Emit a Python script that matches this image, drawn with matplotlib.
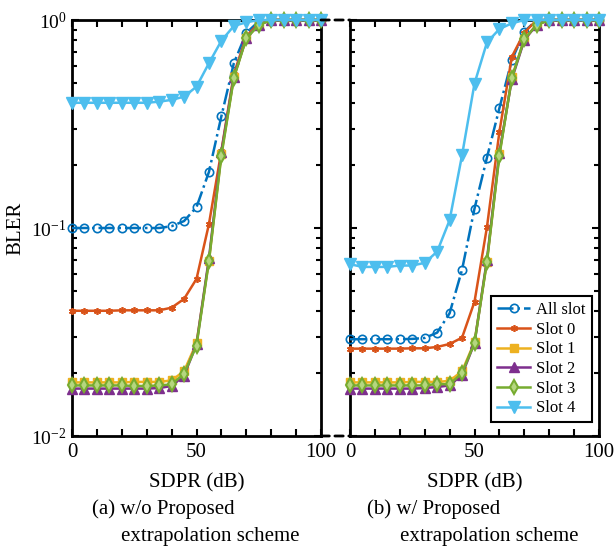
import matplotlib
matplotlib.use("Agg")
import matplotlib.pyplot as plt
from matplotlib.patches import ConnectionPatch

plt.rcParams['font.family'] = ['Liberation Serif', 'DejaVu Serif']
plt.rcParams['mathtext.fontset'] = 'stix'

# ---------------- data ----------------
sdpr = [0, 5, 10, 15, 20, 25, 30, 35, 40, 45, 50, 55, 60, 65, 70, 75, 80, 85, 90, 95, 100]

labels = ["All slot", "Slot 0", "Slot 1", "Slot 2", "Slot 3", "Slot 4"]

# (a) w/o proposed extrapolation scheme
a_all = [0.1, 0.1, 0.1, 0.1, 0.1, 0.1, 0.1, 0.1, 0.102, 0.108, 0.126, 0.186, 0.345, 0.62, 0.866, 0.985, 1, 1, 1, 1, 1]
a_s0 = [0.04, 0.04, 0.04, 0.04, 0.0402, 0.0402, 0.0402, 0.0402, 0.0414, 0.0456, 0.0569, 0.1045, 0.235, 0.55, 0.835, 0.965, 1, 1, 1, 1, 1]
a_s1 = [0.0181, 0.0181, 0.0181, 0.0181, 0.0181, 0.0182, 0.0182, 0.0182, 0.0185, 0.0205, 0.028, 0.0695, 0.226, 0.53, 0.82, 0.95, 1, 1, 1, 1, 1]
a_s2 = [0.0169, 0.0169, 0.0169, 0.0169, 0.0169, 0.0169, 0.0169, 0.0170, 0.0174, 0.0195, 0.0276, 0.0715, 0.232, 0.535, 0.82, 0.95, 1, 1, 1, 1, 1]
a_s3 = [0.0175, 0.0175, 0.0175, 0.0175, 0.0175, 0.0174, 0.0174, 0.0175, 0.0177, 0.0199, 0.0272, 0.0694, 0.223, 0.526, 0.816, 0.946, 1, 1, 1, 1, 1]
a_s4 = [0.4, 0.4, 0.4, 0.4, 0.4, 0.4, 0.4, 0.405, 0.413, 0.428, 0.478, 0.62, 0.795, 0.936, 0.975, 1, 1, 1, 1, 1, 1]

# (b) w/ proposed extrapolation scheme
b_all = [0.0292, 0.0292, 0.0292, 0.0292, 0.0292, 0.0293, 0.0296, 0.0314, 0.0389, 0.063, 0.124, 0.218, 0.377, 0.642, 0.88, 1, 1, 1, 1, 1, 1]
b_s0 = [0.0263, 0.0263, 0.0263, 0.0263, 0.0263, 0.0264, 0.0264, 0.0268, 0.0277, 0.0297, 0.0442, 0.101, 0.29, 0.666, 0.87, 1, 1, 1, 1, 1, 1]
b_s1 = [0.0181, 0.0181, 0.0181, 0.0181, 0.0181, 0.0182, 0.0182, 0.0182, 0.0184, 0.0205, 0.0283, 0.069, 0.226, 0.53, 0.81, 0.95, 1, 1, 1, 1, 1]
b_s2 = [0.0169, 0.0169, 0.0169, 0.0169, 0.0169, 0.0169, 0.0170, 0.0172, 0.0175, 0.0197, 0.028, 0.0705, 0.23, 0.52, 0.80, 0.95, 1, 1, 1, 1, 1]
b_s3 = [0.0175, 0.0175, 0.0175, 0.0175, 0.0175, 0.0175, 0.0175, 0.0178, 0.0177, 0.0201, 0.028, 0.0689, 0.223, 0.526, 0.81, 0.946, 1, 1, 1, 1, 1]
b_s4 = [0.067, 0.065, 0.065, 0.065, 0.066, 0.066, 0.068, 0.077, 0.109, 0.224, 0.495, 0.78, 0.905, 0.964, 1, 1, 1, 1, 1, 1, 1]

xtick_vals = [0, 10, 20, 30, 40, 50, 60, 70, 80, 90, 100]
xtick_labels = ["0", "", "", "", "", "50", "", "", "", "", "100"]

caption_a = ["(a) w/o Proposed", "extrapolation scheme"]
caption_b = ["(b) w/ Proposed", "extrapolation scheme"]

# ---------------- styles ----------------
styles = [
    dict(color='#0072BD', ls='-.', marker='o', mfc='none', ms=6, mew=1.2),
    dict(color='#D95319', ls='-', marker=(6, 2, 0), ms=5, mew=1.2),
    dict(color='#EDB120', ls='-', marker='s', ms=5.5, mew=1.0),
    dict(color='#7E2F8E', ls='-', marker='^', ms=7, mew=1.0),
    dict(color='#77AC30', ls='-', marker='d', mfc='#b5d67f', ms=7, mew=1.5),
    dict(color='#4DBEEE', ls='-', marker='v', ms=8.5, mew=1.0),
]

fig = plt.figure(figsize=(6.14, 5.46), dpi=100)
W, H = 614, 546
ax1 = fig.add_axes([72 / W, 1 - 436 / H, 249 / W, 416 / H])
ax2 = fig.add_axes([350 / W, 1 - 436 / H, 249 / W, 416 / H])

panels = [(ax1, [a_all, a_s0, a_s1, a_s2, a_s3, a_s4]),
          (ax2, [b_all, b_s0, b_s1, b_s2, b_s3, b_s4])]

for ax, series in panels:
    for ys, lab, st in zip(series, labels, styles):
        ax.plot(sdpr, ys, label=lab, lw=1.8, clip_on=False, zorder=3, **st)
    ax.set_yscale('log')
    ax.set_ylim(1e-2, 1)
    ax.set_xlim(0, 100)
    ax.set_xticks(xtick_vals)
    ax.set_xticklabels(xtick_labels)
    ax.tick_params(which='both', direction='in', top=True, right=True,
                   width=1.5, labelsize=15, pad=5)
    ax.tick_params(axis='y', labelsize=14, pad=4)
    ax.tick_params(which='major', length=5)
    ax.tick_params(which='minor', length=3.5)
    for sp in ax.spines.values():
        sp.set_linewidth(2.0)
    ax.set_xlabel("SDPR (dB)", fontsize=15, labelpad=8)

ax1.set_ylabel("BLER", fontsize=15, labelpad=4)
ax2.tick_params(axis='y', which='both', labelleft=False)

leg = ax2.legend(loc='lower right', bbox_to_anchor=(0.97, 0.033), borderaxespad=0,
                 fontsize=12, frameon=True, fancybox=False, framealpha=1,
                 edgecolor='black', handlelength=2.0, handletextpad=0.35,
                 labelspacing=0.22, borderpad=0.35)
leg.get_frame().set_linewidth(1.5)

# broken-axis style dashed connectors
for ya in (0, 1):
    con = ConnectionPatch(xyA=(1, ya), coordsA=ax1.transAxes,
                          xyB=(0, ya), coordsB=ax2.transAxes,
                          linestyle=(0, (3, 2)), color='black', lw=2)
    fig.add_artist(con)

fig.text(92 / W, 1 - 509 / H, caption_a[0], fontsize=15, ha='left', va='center')
fig.text(121 / W, 1 - 537 / H, caption_a[1], fontsize=15, ha='left', va='center')
fig.text(367 / W, 1 - 509 / H, caption_b[0], fontsize=15, ha='left', va='center')
fig.text(400 / W, 1 - 537 / H, caption_b[1], fontsize=15, ha='left', va='center')

fig.savefig("out.png", dpi=100)
